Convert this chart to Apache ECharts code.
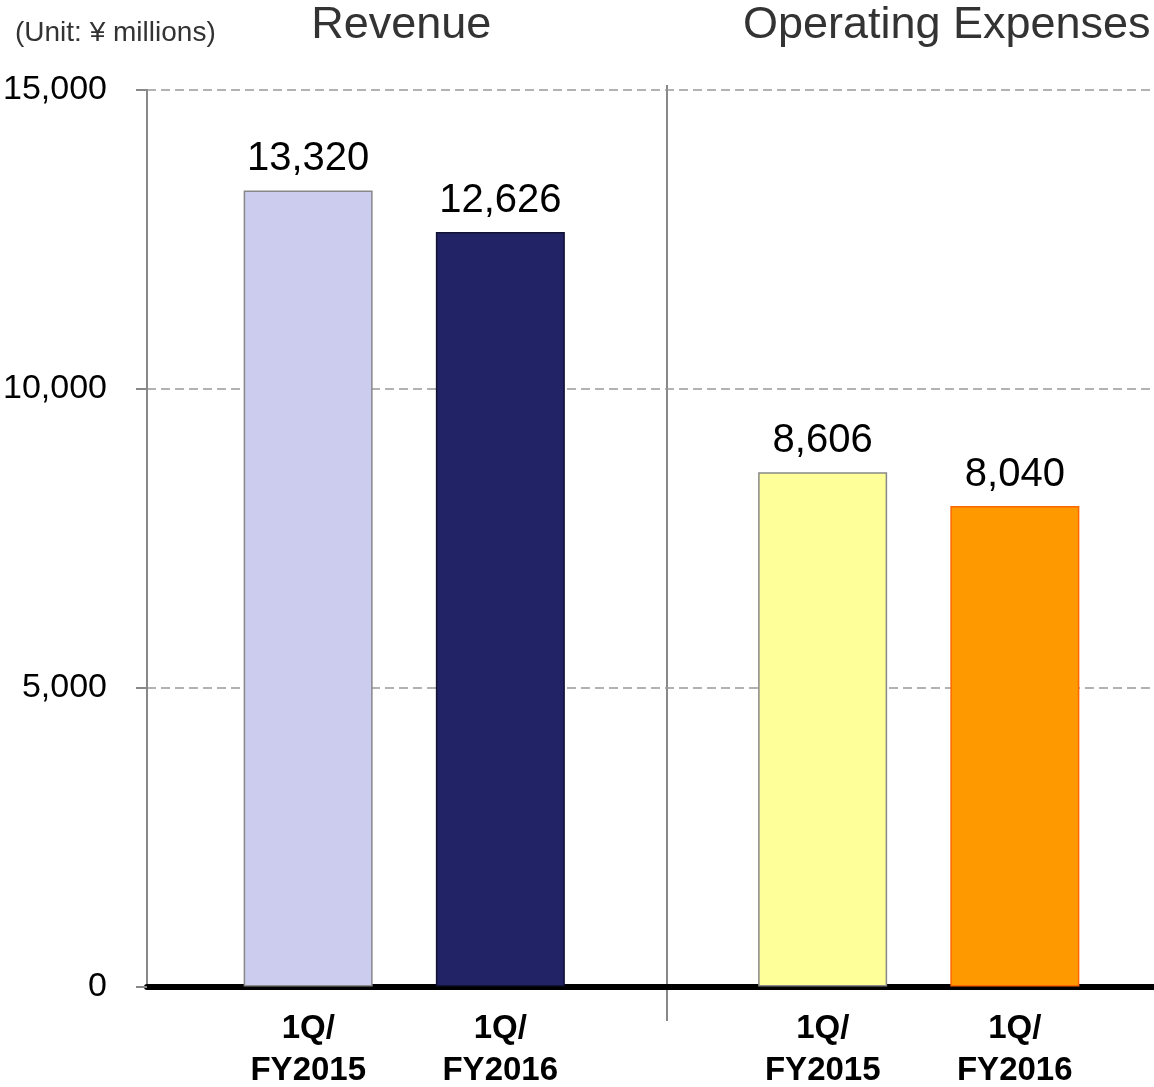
<!DOCTYPE html>
<html><head><meta charset="utf-8">
<script src="https://cdn.jsdelivr.net/npm/echarts@6/dist/echarts.min.js"></script>
<style>html,body{margin:0;padding:0;background:#fff;overflow:hidden}#c{width:1176px;height:1087px}</style>
</head><body><div id="c"></div>
<script>
const categories = ['Revenue', 'Operating Expenses'];
const periods = ['1Q/FY2015', '1Q/FY2016'];
const fy2015 = [13320, 8606];
const fy2016 = [12626, 8040];
const yMin = 0, yMax = 15000, yInterval = 5000;
const unitLabel = '(Unit: \u00a5 millions)';

const fills = [['#ccccee', '#ffff99'], ['#222266', '#ff9900']];
const borders = [['#888888', '#888888'], ['#111133', '#ff6600']];
const FONT = 'Liberation Sans, Arial, sans-serif';

const chart = echarts.init(document.getElementById('c'));
function mkData(vals, s) {
  return vals.map((v, i) => ({ value: v, itemStyle: { color: fills[s][i], borderColor: borders[s][i], borderWidth: 1.5 } }));
}
const fmt = v => v.toLocaleString('en-US');
const valueLabel = { show: true, position: 'top', distance: 11, color: '#000', fontSize: 40, fontFamily: FONT, formatter: p => fmt(p.value) };

chart.setOption({
  animation: false,
  title: { text: unitLabel, left: 10, top: 14, textStyle: { fontSize: 28, fontWeight: 'normal', color: '#333', fontFamily: FONT } },
  grid: { left: 147, top: 90, right: 0, height: 898, containLabel: false },
  xAxis: [{
    type: 'category', data: categories, position: 'bottom',
    axisLine: { lineStyle: { color: '#000', width: 6 } },
    axisTick: { show: false },
    axisLabel: {
      margin: 21,
      formatter: () => {
        const parts = periods.map(p => { const k = p.indexOf('/'); return [p.slice(0, k + 1), p.slice(k + 1)]; });
        return parts.map(p => '{a|' + p[0] + '}').join('') + '\n' + parts.map(p => '{a|' + p[1] + '}').join('');
      },
      rich: { a: { width: 192, align: 'center', fontSize: 33, fontWeight: 'bold', color: '#000', fontFamily: FONT, lineHeight: 42 } }
    }
  }, {
    type: 'category', data: categories, position: 'top',
    axisLine: { show: false }, axisTick: { show: false },
    axisLabel: {
      margin: 42,
      formatter: (v, i) => i === 0 ? '{a|' + v + '}' : '{b|' + v + '}',
      rich: {
        a: { fontSize: 45, color: '#333', fontFamily: FONT, padding: [0, 6, 0, 0] },
        b: { fontSize: 45, color: '#333', fontFamily: FONT, padding: [0, 0, 0, 56] }
      }
    }
  }],
  yAxis: {
    type: 'value', min: yMin, max: yMax, interval: yInterval,
    axisLine: { show: true, lineStyle: { color: '#888', width: 2 } },
    axisTick: { show: true, length: 11, lineStyle: { color: '#888', width: 2 } },
    axisLabel: { margin: 40, fontSize: 34, color: '#000', fontFamily: FONT, formatter: v => fmt(v) },
    splitLine: { show: true, lineStyle: { color: '#999', width: 1.5, type: [9, 5] } }
  },
  series: [
    { name: periods[0], type: 'bar', data: mkData(fy2015, 0), barWidth: 129, barGap: '49%', label: valueLabel },
    { name: periods[1], type: 'bar', data: mkData(fy2016, 1), barWidth: 129, barGap: '49%', label: valueLabel }
  ],
  graphic: [{ type: 'line', shape: { x1: 667, y1: 85, x2: 667, y2: 1021 }, style: { stroke: '#888', lineWidth: 2 }, z: 0 }]
});
</script></body></html>
